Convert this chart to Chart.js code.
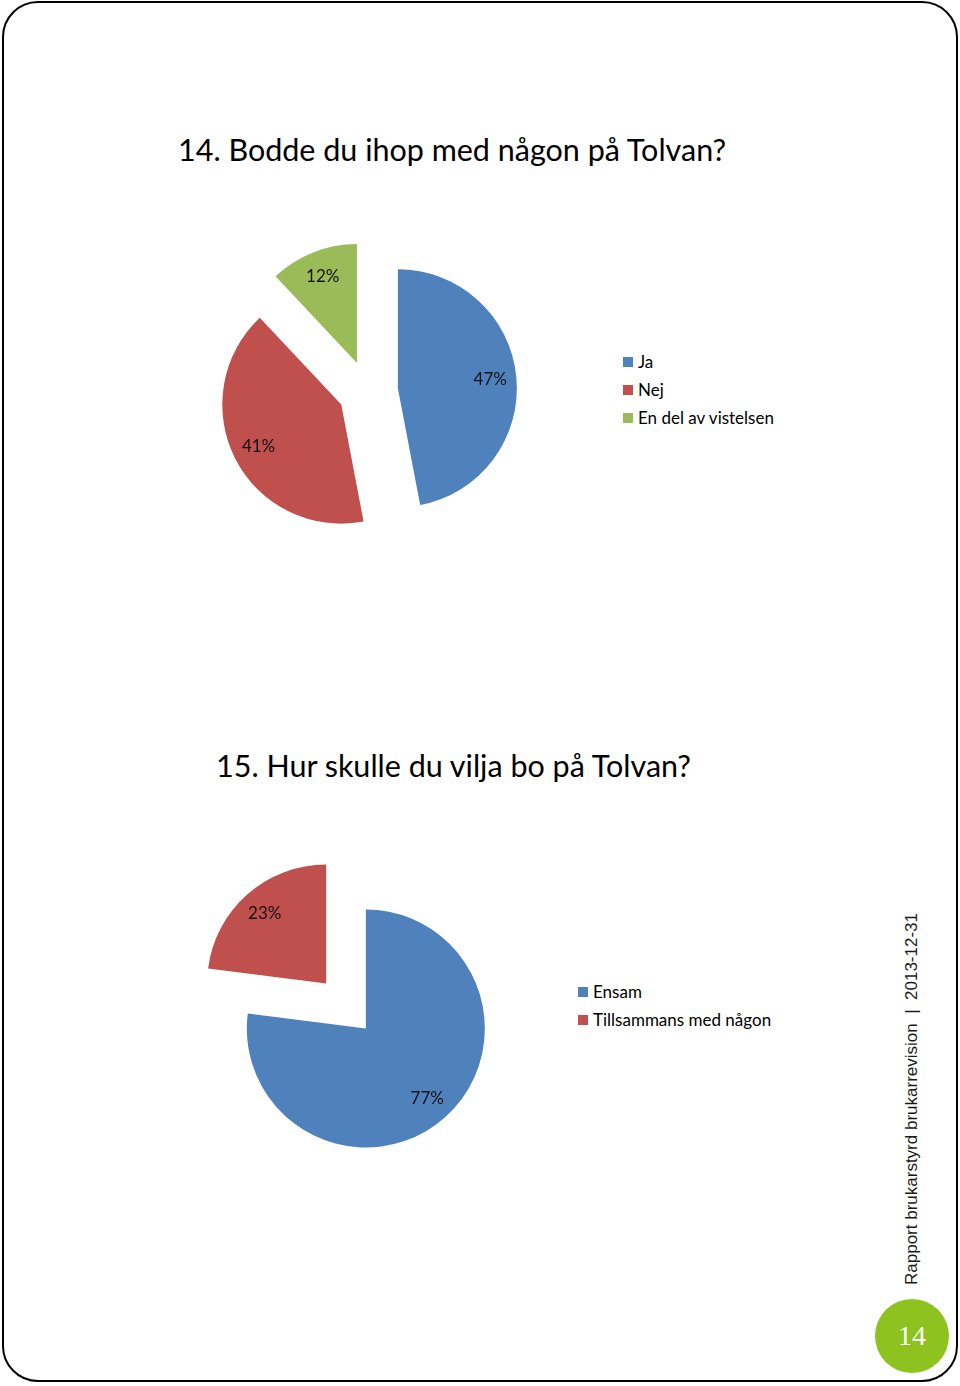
<!DOCTYPE html>
<html>
<head>
<meta charset="utf-8">
<script src="https://cdn.jsdelivr.net/npm/chart.js@4.4.1/dist/chart.umd.min.js"></script>
<style>
  html, body { margin: 0; padding: 0; background: #fff; }
  #page { position: relative; width: 960px; height: 1386px; overflow: hidden; font-family: Lato, "Open Sans", sans-serif; }
  #frame { position: absolute; left: 2px; top: 1px; width: 956px; height: 1381px; box-sizing: border-box; border: 2px solid #000; border-radius: 36px; }
  .title { position: absolute; font-size: 30.5px; line-height: 36px; color: #000; white-space: nowrap; }
  canvas { position: absolute; }
  .legend { position: absolute; font-size: 17px; color: #000; }
  .legend .item { position: relative; height: 28px; line-height: 28px; padding-left: 15px; white-space: nowrap; }
  .legend .box { position: absolute; left: 0; top: 9px; width: 10px; height: 10px; }
  #side { position: absolute; left: 912px; top: 1099px; transform: translate(-50%, -50%) rotate(-90deg); font-family: "Liberation Sans", Arial, sans-serif; font-size: 17px; color: #1a1a1a; white-space: pre; }
  #badge { position: absolute; left: 875px; top: 1299px; width: 74px; height: 74px; border-radius: 50%; background: #8dc21f; color: #fff; font-family: "Liberation Serif", serif; font-size: 28px; line-height: 74px; text-align: center; }
</style>
</head>
<body>
<div id="page">
  <div id="frame"></div>
  <div class="title" id="t1" style="left:178px; top:131px;"></div>
  <canvas id="c1" width="340" height="340" style="left:198px; top:221px;"></canvas>
  <div class="legend" id="l1" style="left:623px; top:348px;"></div>
  <div class="title" id="t2" style="left:216px; top:747px;"></div>
  <canvas id="c2" width="340" height="340" style="left:176px; top:836px;"></canvas>
  <div class="legend" id="l2" style="left:578px; top:978px;"></div>
  <div id="side"></div>
  <div id="badge"></div>
</div>
<script>
// ---- data ----
const chart1Title = '14. Bodde du ihop med någon på Tolvan?';
const chart1Labels = ['Ja', 'Nej', 'En del av vistelsen'];
const chart1Values = [47, 41, 12];

const chart2Title = '15. Hur skulle du vilja bo på Tolvan?';
const chart2Labels = ['Ensam', 'Tillsammans med någon'];
const chart2Values = [77, 23];

const sliceColors = ['#4f81bd', '#c0504d', '#9bbb59'];

const sideText = 'Rapport brukarstyrd brukarrevision  |  2013-12-31';
const pageNumber = '14';

// ---- style constants ----
const PIE_RADIUS = 119;
const EXPLODE = 30;
const LABEL_POS = 0.78;

const explodePlugin = {
  id: 'explode',
  afterDatasetUpdate(chart, args) {
    args.meta.data.forEach(arc => {
      const mid = (arc.startAngle + arc.endAngle) / 2;
      arc.x += Math.cos(mid) * EXPLODE;
      arc.y += Math.sin(mid) * EXPLODE;
    });
  }
};

const labelPlugin = {
  id: 'sliceLabels',
  afterDatasetsDraw(chart) {
    const ctx = chart.ctx;
    const meta = chart.getDatasetMeta(0);
    const values = chart.data.datasets[0].data;
    ctx.save();
    ctx.font = '17px Lato, "Open Sans", sans-serif';
    ctx.fillStyle = '#111';
    ctx.textAlign = 'center';
    ctx.textBaseline = 'middle';
    meta.data.forEach((arc, i) => {
      const mid = (arc.startAngle + arc.endAngle) / 2;
      const d = arc.outerRadius * LABEL_POS;
      ctx.fillText(values[i] + '%', arc.x + Math.cos(mid) * d, arc.y + Math.sin(mid) * d);
    });
    ctx.restore();
  }
};

function makePie(id, labels, values) {
  return new Chart(document.getElementById(id), {
    type: 'pie',
    data: {
      labels: labels,
      datasets: [{
        data: values,
        backgroundColor: sliceColors.slice(0, values.length),
        borderWidth: 0,
        radius: PIE_RADIUS
      }]
    },
    options: {
      responsive: false,
      animation: false,
      events: [],
      layout: { padding: 0 },
      plugins: { legend: { display: false }, tooltip: { enabled: false } }
    },
    plugins: [explodePlugin, labelPlugin]
  });
}

function makeLegend(id, labels) {
  const el = document.getElementById(id);
  labels.forEach((lab, i) => {
    const item = document.createElement('div');
    item.className = 'item';
    const box = document.createElement('span');
    box.className = 'box';
    box.style.background = sliceColors[i];
    item.appendChild(box);
    item.appendChild(document.createTextNode(lab));
    el.appendChild(item);
  });
}

document.getElementById('t1').textContent = chart1Title;
document.getElementById('t2').textContent = chart2Title;
document.getElementById('side').textContent = sideText;
document.getElementById('badge').textContent = pageNumber;

makePie('c1', chart1Labels, chart1Values);
makePie('c2', chart2Labels, chart2Values);
makeLegend('l1', chart1Labels);
makeLegend('l2', chart2Labels);
</script>
</body>
</html>
